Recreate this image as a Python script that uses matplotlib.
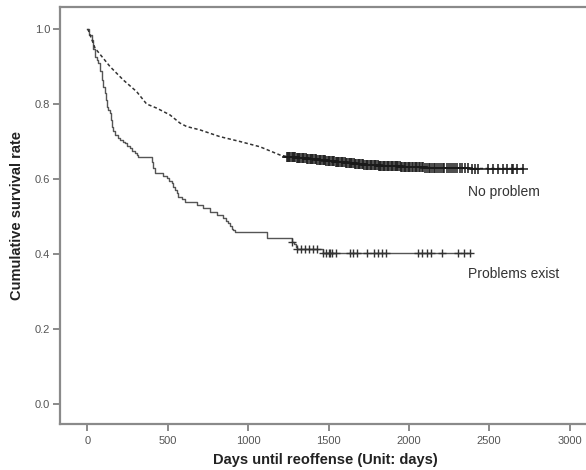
import numpy as np
import matplotlib
matplotlib.use("Agg")
import matplotlib.pyplot as plt

plt.rcParams['font.family'] = ['Liberation Sans', 'DejaVu Sans']

# Kaplan-Meier estimate, "Problems exist" group (step function, days / survival)
prob_days = [0, 12, 26, 36, 47, 57, 67, 78, 88, 98, 109, 114, 119, 130, 140,
             146, 151, 161, 171, 187, 202, 218, 233, 249, 264, 280, 296, 306,
             316, 400, 410, 420, 472, 493, 508, 524, 535, 545, 555, 565, 586,
             607, 680, 721, 762, 804, 845, 860, 876, 887, 897, 908, 918, 1115,
             1273, 1285, 1297, 1303, 1465, 2380]
prob_surv = [1.0, 0.985, 0.971, 0.948, 0.926, 0.917, 0.909, 0.887, 0.864,
             0.846, 0.829, 0.811, 0.793, 0.784, 0.775, 0.757, 0.74, 0.729,
             0.717, 0.71, 0.704, 0.699, 0.695, 0.688, 0.682, 0.675, 0.669,
             0.664, 0.66, 0.645, 0.63, 0.615, 0.609, 0.602, 0.595, 0.589, 0.58,
             0.571, 0.562, 0.553, 0.546, 0.539, 0.531, 0.522, 0.513, 0.504,
             0.495, 0.489, 0.482, 0.475, 0.468, 0.463, 0.459, 0.442, 0.433,
             0.426, 0.42, 0.413, 0.403, 0.403]
prob_censor = [1273, 1303, 1328, 1353, 1378, 1403, 1428, 1465, 1484, 1503, 1512,
               1521, 1546, 1633, 1652, 1677, 1739, 1783, 1808, 1832, 1857, 2057,
               2081, 2110, 2135, 2206, 2306, 2343, 2380]

# "No problem" group (many small steps, drawn as dashed curve)
nop_days = [0, 5, 47, 140, 223, 306, 368, 431, 513, 576, 617, 700, 824, 949,
            1073, 1198, 1240, 1447, 1758, 2069, 2380, 2712]
nop_surv = [1.0, 0.997, 0.949, 0.90, 0.864, 0.833, 0.80, 0.789, 0.771, 0.749,
            0.74, 0.731, 0.713, 0.70, 0.686, 0.664, 0.66, 0.651, 0.637, 0.631,
            0.628, 0.628]
nop_censor = [1240, 1247, 1255, 1261, 1270, 1277, 1286, 1293, 1301, 1310, 1318,
              1325, 1334, 1342, 1349, 1358, 1366, 1373, 1382, 1390, 1398, 1405,
              1414, 1422, 1431, 1438, 1446, 1455, 1463, 1470, 1479, 1487, 1494,
              1503, 1511, 1519, 1527, 1536, 1544, 1551, 1560, 1568, 1577, 1584,
              1592, 1601, 1609, 1616, 1625, 1633, 1642, 1649, 1657, 1666, 1674,
              1681, 1690, 1698, 1706, 1714, 1723, 1731, 1738, 1747, 1755, 1764,
              1771, 1780, 1788, 1796, 1805, 1813, 1820, 1829, 1837, 1846, 1853,
              1862, 1870, 1878, 1887, 1895, 1902, 1911, 1919, 1928, 1935, 1944,
              1952, 1960, 1969, 1977, 1985, 1993, 2001, 2010, 2018, 2026, 2035,
              2043, 2052, 2061, 2072, 2081, 2090, 2102, 2111, 2124, 2133, 2145,
              2156, 2165, 2178, 2190, 2199, 2212, 2221, 2236, 2248, 2260, 2275,
              2290, 2302, 2318, 2331, 2349, 2370, 2391, 2411, 2432, 2494, 2525,
              2556, 2587, 2608, 2640, 2645, 2671, 2712]

x_ticks = [0, 500, 1000, 1500, 2000, 2500, 3000]
y_ticks = [0.0, 0.2, 0.4, 0.6, 0.8, 1.0]


def step_value(days, surv, t):
    idx = np.searchsorted(days, t, side='right') - 1
    return np.asarray(surv)[np.clip(idx, 0, len(surv) - 1)]


fig = plt.figure(figsize=(5.86, 4.70), dpi=100)
W, H = 586, 470
ax = fig.add_axes([60 / W, 46 / H, 530 / W, 417 / H])

# curves
ax.step(prob_days, prob_surv, where='post', color='#555555', lw=1.0)
ax.plot(nop_days, nop_surv, color='#333333', lw=1.1, ls=(0, (2.2, 1.6)))

# censor marks
ax.plot(prob_censor, step_value(prob_days, prob_surv, prob_censor), ls='none',
        marker='+', ms=6, mew=1.0, color='#333333')
ax.plot(nop_censor, np.interp(nop_censor, nop_days, nop_surv), ls='none',
        marker='+', ms=6.5, mew=1.1, color='#1a1a1a')

ax.text(2365, 0.565, 'No problem', fontsize=10, color='#333333', va='center')
ax.text(2365, 0.347, 'Problems exist', fontsize=10, color='#333333', va='center')

ax.set_xlim(-171, 3127)
ax.set_ylim(-0.0533, 1.0587)
ax.set_xticks(x_ticks)
ax.set_yticks(y_ticks)
ax.set_yticklabels([f'{v:.1f}' for v in y_ticks])

for side in ['left', 'bottom', 'top']:
    ax.spines[side].set_color('#8a8a8a')
    ax.spines[side].set_linewidth(1.6)
ax.spines['right'].set_visible(False)
ax.tick_params(direction='out', length=5, width=1.2, color='#777777',
               labelsize=8, labelcolor='#555555', pad=2)
ax.tick_params(axis='x', pad=4)

ax.set_xlabel('Days until reoffense (Unit: days)', fontsize=10.5,
              fontweight='bold', color='#222222', labelpad=5)
ax.set_ylabel('Cumulative survival rate', fontsize=10.5, fontweight='bold',
              color='#222222', labelpad=8)

fig.savefig('out.png', dpi=100)
